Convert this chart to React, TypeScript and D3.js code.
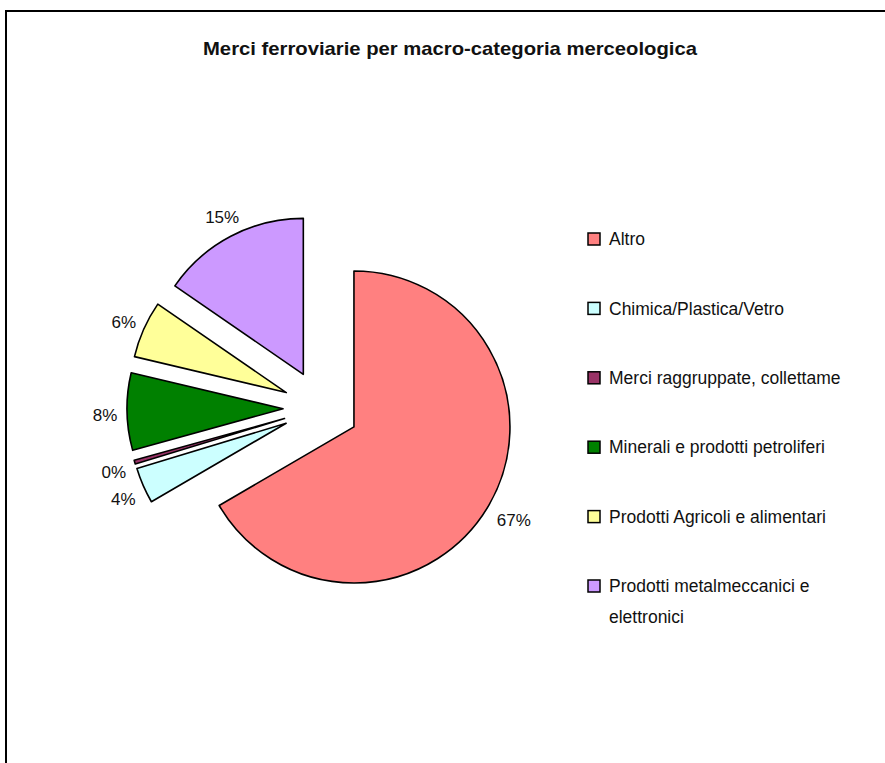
import React, { useEffect, useRef } from "react";
import * as d3 from "d3";

const categories = [
  "Altro",
  "Chimica/Plastica/Vetro",
  "Merci raggruppate, collettame",
  "Minerali e prodotti petroliferi",
  "Prodotti Agricoli e alimentari",
  "Prodotti metalmeccanici e elettronici",
];
const shares = [66.6, 3.7, 0.4, 8.0, 5.9, 15.4];
const colors = ["#FF8080", "#CCFFFF", "#993366", "#008000", "#FFFF99", "#CC99FF"];
const title = "Merci ferroviarie per macro-categoria merceologica";

const App = () => {
  const svgRef = useRef<SVGSVGElement>(null);

  useEffect(() => {
    const width = 885;
    const height = 763;
    const cx = 321;
    const cy = 408;
    const radius = 156;
    const explode = 38;

    const svg = d3.select(svgRef.current).attr("width", width).attr("height", height);
    svg.selectAll("*").remove();

    svg
      .append("rect")
      .attr("x", 6)
      .attr("y", 11)
      .attr("width", 920)
      .attr("height", 800)
      .attr("fill", "#fff")
      .attr("stroke", "#000")
      .attr("stroke-width", 2);

    svg
      .append("text")
      .attr("x", 450)
      .attr("y", 55)
      .attr("text-anchor", "middle")
      .attr("textLength", 494)
      .attr("lengthAdjust", "spacingAndGlyphs")
      .style("font-family", "'Liberation Sans', Arial, sans-serif")
      .style("font-weight", "bold")
      .style("font-size", "19px")
      .style("fill", "#111")
      .text(title);

    const pie = d3.pie<number>().sort(null).value((d) => d);
    const data_ready = pie(shares);
    const arc = d3.arc<d3.PieArcDatum<number>>().innerRadius(0).outerRadius(radius);
    const labelArc = d3.arc<d3.PieArcDatum<number>>().innerRadius(181).outerRadius(181);

    // offset of each slice along its mid angle
    const shift = (d: d3.PieArcDatum<number>) => {
      const a = (d.startAngle + d.endAngle) / 2;
      return [explode * Math.sin(a), -explode * Math.cos(a)];
    };

    const g = svg.append("g").attr("transform", `translate(${cx},${cy})`);

    g.selectAll("path")
      .data(data_ready)
      .enter()
      .append("path")
      .attr("d", arc)
      .attr("transform", (d) => {
        const [dx, dy] = shift(d);
        return `translate(${dx},${dy})`;
      })
      .attr("fill", (d, i) => colors[i])
      .attr("stroke", "#000")
      .attr("stroke-width", 1.6)
      .attr("stroke-linejoin", "round");

    g.selectAll("text.lbl")
      .data(data_ready)
      .enter()
      .append("text")
      .attr("class", "lbl")
      .attr("x", (d) => labelArc.centroid(d)[0] + shift(d)[0] + 3)
      .attr("y", (d) => labelArc.centroid(d)[1] + shift(d)[1] + 3)
      .attr("text-anchor", "middle")
      .attr("dy", "0.35em")
      .style("font-family", "'Liberation Sans', Arial, sans-serif")
      .style("font-size", "17px")
      .style("fill", "#111")
      .text((d) => `${Math.round(d.data)}%`);

    // legend
    const ly = d3.scalePoint<string>().domain(categories).range([239, 586]);
    const legend = svg
      .selectAll("g.leg")
      .data(categories)
      .enter()
      .append("g")
      .attr("class", "leg")
      .attr("transform", (d) => `translate(587,${ly(d)})`);

    legend
      .append("rect")
      .attr("x", 1)
      .attr("y", -6)
      .attr("width", 12)
      .attr("height", 12)
      .attr("fill", (d, i) => colors[i])
      .attr("stroke", "#000")
      .attr("stroke-width", 1.5);

    legend.each(function (d) {
      const t = d3
        .select(this)
        .append("text")
        .attr("x", 22)
        .attr("y", 0)
        .style("font-family", "'Liberation Sans', Arial, sans-serif")
        .style("font-size", "17.5px")
        .style("fill", "#111");
      const words = d.split(" ");
      let line: string[] = [];
      let tspan = t.append("tspan").attr("x", 22).attr("dy", "0.35em");
      for (const w of words) {
        line.push(w);
        tspan.text(line.join(" "));
        const len = (tspan.node() as SVGTSpanElement).getComputedTextLength();
        if (len > 255 && line.length > 1) {
          line.pop();
          tspan.text(line.join(" "));
          line = [w];
          tspan = t.append("tspan").attr("x", 22).attr("dy", "31px").text(w);
        }
      }
    });
  }, []);

  return (
    <div style={{ position: "absolute", left: 0, top: 0 }}>
      <svg ref={svgRef} style={{ display: "block" }}></svg>
    </div>
  );
};

export default App;
